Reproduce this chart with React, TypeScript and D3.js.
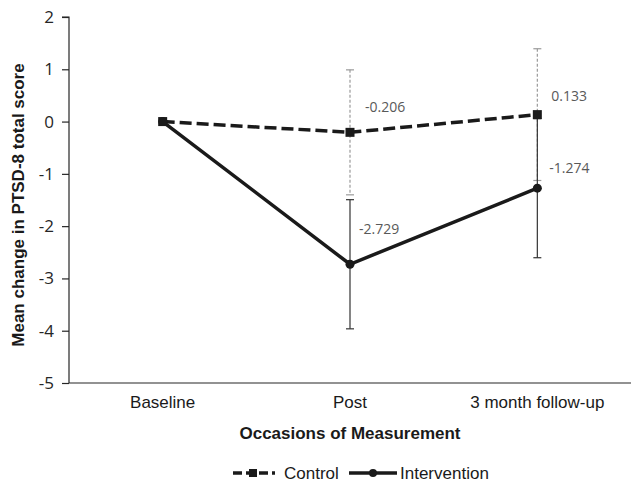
import React, { useEffect, useRef } from 'react';
import * as d3 from 'd3';

const occasions = ['Baseline', 'Post', '3 month follow-up'];
const controlMeans = [0, -0.206, 0.133];
const controlErr = [0, 1.195, 1.26];
const interventionMeans = [0, -2.729, -1.274];
const interventionErr = [0, 1.235, 1.33];
const yTicks = [2, 1, 0, -1, -2, -3, -4, -5];
// label offsets (px) relative to each point, for the post / follow-up labels
const controlLabelOffset = [[0, 0], [15, -20], [14, -14]];
const interventionLabelOffset = [[0, 0], [9, -30], [12, -15]];

const App = () => {
  const svgRef = useRef<SVGSVGElement>(null);

  const width = 631;
  const height = 482;
  const marginLeft = 69;
  const marginRight = 0;
  const marginTop = 17;
  const bottomY = 383;

  useEffect(() => {
    const svg = d3.select(svgRef.current);
    svg.selectAll('*').remove();

    const x = d3.scaleBand<string>()
      .domain(occasions)
      .range([marginLeft, width - marginRight]);
    const cx = (c: string) => (x(c) as number) + x.bandwidth() / 2;

    const y = d3.scaleLinear().domain([-5, 2]).range([bottomY, marginTop]);

    // Y axis
    const yAxis = svg.append('g')
      .attr('transform', `translate(${marginLeft},0)`)
      .call(d3.axisLeft(y).tickValues(yTicks).tickFormat(d => String(d)).tickSize(7).tickPadding(8));
    yAxis.selectAll('path,line').attr('stroke', '#262626').attr('stroke-width', 1.2);
    yAxis.select('.domain').attr('d', `M-7,${y(2)}H0V${y(-5)}`);
    yAxis.selectAll('text')
      .attr('font-family', 'Open Sans, sans-serif')
      .attr('font-size', 17)
      .attr('fill', '#262626');

    // X axis
    svg.append('line')
      .attr('x1', marginLeft).attr('x2', width)
      .attr('y1', bottomY).attr('y2', bottomY)
      .attr('stroke', '#262626').attr('stroke-width', 1.2);
    svg.append('g').selectAll('text')
      .data(occasions)
      .join('text')
      .attr('x', d => cx(d))
      .attr('y', bottomY + 25)
      .attr('text-anchor', 'middle')
      .attr('font-family', 'Liberation Sans, Arial, sans-serif')
      .attr('font-size', 17)
      .attr('fill', '#1a1a1a')
      .text(d => d);

    // titles
    svg.append('text')
      .attr('x', 350).attr('y', 439)
      .attr('text-anchor', 'middle')
      .attr('font-family', 'Liberation Sans, Arial, sans-serif')
      .attr('font-size', 17).attr('font-weight', 'bold')
      .attr('fill', '#1a1a1a')
      .text('Occasions of Measurement');
    svg.append('text')
      .attr('transform', `translate(24,${(marginTop + bottomY) / 2 + 5}) rotate(-90)`)
      .attr('text-anchor', 'middle')
      .attr('font-family', 'Liberation Sans, Arial, sans-serif')
      .attr('font-size', 17).attr('font-weight', 'bold')
      .attr('fill', '#1a1a1a')
      .text('Mean change in PTSD-8 total score');

    const series = [
      { name: 'Control', means: controlMeans, err: controlErr, off: controlLabelOffset,
        dash: '12,5', errColor: '#9a9a9a', errDash: '3,2', marker: 'square' },
      { name: 'Intervention', means: interventionMeans, err: interventionErr, off: interventionLabelOffset,
        dash: null, errColor: '#333', errDash: null, marker: 'circle' },
    ];

    // error bars
    series.forEach(s => {
      const g = svg.append('g');
      occasions.forEach((c, i) => {
        if (!s.err[i]) return;
        const px = cx(c);
        const top = y(s.means[i] + s.err[i]);
        const bot = y(s.means[i] - s.err[i]);
        g.append('line').attr('x1', px).attr('x2', px).attr('y1', top).attr('y2', bot)
          .attr('stroke', s.errColor).attr('stroke-width', 1.2)
          .attr('stroke-dasharray', s.errDash);
        [top, bot].forEach(v => {
          g.append('line').attr('x1', px - 4).attr('x2', px + 4).attr('y1', v).attr('y2', v)
            .attr('stroke', s.errColor).attr('stroke-width', 1.2);
        });
      });
    });

    const line = d3.line<number>()
      .x((_, i) => cx(occasions[i]))
      .y(d => y(d));

    series.forEach(s => {
      svg.append('path')
        .datum(s.means)
        .attr('fill', 'none')
        .attr('stroke', '#1a1a1a')
        .attr('stroke-width', 3.5)
        .attr('stroke-dasharray', s.dash)
        .attr('d', line);
      s.means.forEach((m, i) => {
        const px = cx(occasions[i]);
        if (s.marker === 'square') {
          svg.append('rect').attr('x', px - 4.5).attr('y', y(m) - 4.5)
            .attr('width', 9).attr('height', 9).attr('fill', '#1a1a1a');
        } else {
          svg.append('circle').attr('cx', px).attr('cy', y(m)).attr('r', 4.5).attr('fill', '#1a1a1a');
        }
        if (i > 0) {
          svg.append('text')
            .attr('x', px + s.off[i][0])
            .attr('y', y(m) + s.off[i][1])
            .attr('font-family', 'Open Sans, sans-serif')
            .attr('font-size', 14)
            .attr('fill', '#595959')
            .text(m.toFixed(3));
        }
      });
    });

    // legend
    const lg = svg.append('g').attr('transform', 'translate(0,473)');
    lg.append('line').attr('x1', 233).attr('x2', 275).attr('y1', 0).attr('y2', 0)
      .attr('stroke', '#1a1a1a').attr('stroke-width', 3.5).attr('stroke-dasharray', '9,4');
    lg.append('rect').attr('x', 249).attr('y', -4).attr('width', 8).attr('height', 8).attr('fill', '#1a1a1a');
    lg.append('text').attr('x', 284).attr('y', 6)
      .attr('font-family', 'Liberation Sans, Arial, sans-serif').attr('font-size', 17).attr('fill', '#1a1a1a')
      .text('Control');
    lg.append('line').attr('x1', 349).attr('x2', 397).attr('y1', 0).attr('y2', 0)
      .attr('stroke', '#1a1a1a').attr('stroke-width', 3.5);
    lg.append('circle').attr('cx', 373).attr('cy', 0).attr('r', 4).attr('fill', '#1a1a1a');
    lg.append('text').attr('x', 400).attr('y', 6)
      .attr('font-family', 'Liberation Sans, Arial, sans-serif').attr('font-size', 17).attr('fill', '#1a1a1a')
      .text('Intervention');
  }, []);

  return (
    <svg ref={svgRef} width={width} height={height}
      style={{ position: 'absolute', left: 0, top: 0, background: '#fff' }} />
  );
};

export default App;
